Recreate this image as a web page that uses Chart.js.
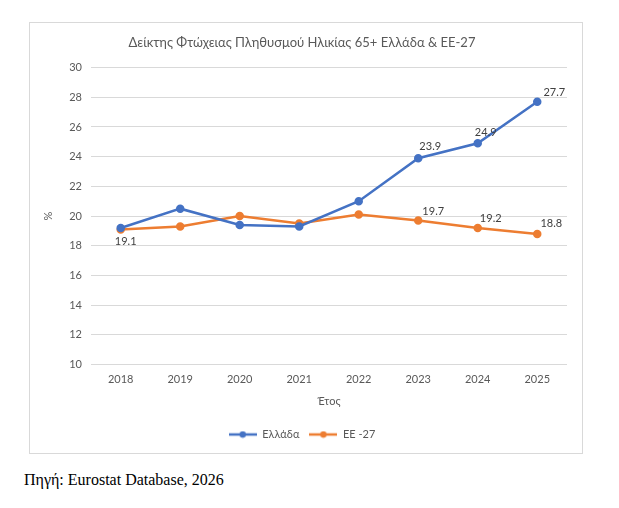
<!DOCTYPE html>
<html>
<head>
<meta charset="utf-8">
<script src="https://cdn.jsdelivr.net/npm/chart.js@4"></script>
<style>
  body { margin: 0; background: #fff; }
  #box { position: absolute; left: 29px; top: 22px; width: 554px; height: 432px; border: 1px solid #d9d9d9; box-sizing: border-box; }
  #source { position: absolute; left: 24px; top: 471px; font-family: "Liberation Serif", serif; font-size: 16px; color: #000; }
</style>
</head>
<body>
<div id="box"><canvas id="myChart"></canvas></div>
<div id="source">Πηγή: Eurostat Database, 2026</div>
<script>
const years = ["2018", "2019", "2020", "2021", "2022", "2023", "2024", "2025"];
const greece = [19.2, 20.5, 19.4, 19.3, 21.0, 23.9, 24.9, 27.7];
const eu27 = [19.1, 19.3, 20.0, 19.5, 20.1, 19.7, 19.2, 18.8];
const greeceLabelIdx = [5, 6, 7];
const euLabelIdx = [0, 5, 6, 7];

const FONT = "Lato, 'Open Sans', sans-serif";
const GREY = "#595959";

// legend marker: short line with a dot in the middle
function marker(color) {
  const c = document.createElement("canvas");
  c.width = 28; c.height = 8;
  const g = c.getContext("2d");
  g.strokeStyle = color; g.lineWidth = 2.5;
  g.beginPath(); g.moveTo(0, 4); g.lineTo(28, 4); g.stroke();
  g.fillStyle = color;
  g.beginPath(); g.arc(14, 4, 3.2, 0, Math.PI * 2); g.fill();
  return c;
}

// value labels (offsets relative to the point)
const labelPlugin = {
  id: "valueLabels",
  afterDatasetsDraw(chart) {
    const ctx = chart.ctx;
    const sets = [
      { ds: 0, idx: greeceLabelIdx, dx: [0, 0, 0, 0, 0, 12, 8, 17], dy: [0, 0, 0, 0, 0, -12, -11, -9] },
      { ds: 1, idx: euLabelIdx, dx: [5, 0, 0, 0, 0, 15, 13, 14], dy: [12, 0, 0, 0, 0, -9, -10, -10] }
    ];
    ctx.save();
    ctx.font = "11px " + FONT;
    ctx.fillStyle = "#404040";
    ctx.textAlign = "center";
    ctx.textBaseline = "middle";
    sets.forEach(s => {
      const meta = chart.getDatasetMeta(s.ds);
      s.idx.forEach(i => {
        const p = meta.data[i];
        const v = chart.data.datasets[s.ds].data[i];
        ctx.fillText(v.toFixed(1), p.x + s.dx[i], p.y + s.dy[i]);
      });
    });
    ctx.restore();
  }
};

new Chart("myChart", {
  type: "line",
  data: {
    labels: years,
    datasets: [
      {
        label: "Ελλάδα",
        data: greece,
        borderColor: "#4472C4",
        backgroundColor: "#4472C4",
        borderWidth: 2.5,
        pointRadius: 3,
        pointStyle: "circle",
        tension: 0
      },
      {
        label: "ΕΕ -27",
        data: eu27,
        borderColor: "#ED7D31",
        backgroundColor: "#ED7D31",
        borderWidth: 2.5,
        pointRadius: 3,
        pointStyle: "circle",
        tension: 0
      }
    ]
  },
  options: {
    responsive: true,
    maintainAspectRatio: false,
    animation: false,
    layout: { padding: { left: 7, right: 15, top: 0, bottom: 3 } },
    plugins: {
      title: {
        display: true,
        text: "Δείκτης Φτώχειας Πληθυσμού Ηλικίας 65+ Ελλάδα & ΕΕ-27",
        color: GREY,
        font: { family: FONT, size: 13, weight: "normal" },
        padding: { top: 12, bottom: 17 }
      },
      legend: {
        position: "bottom",
        labels: {
          color: GREY,
          font: { family: FONT, size: 11 },
          usePointStyle: true,
          pointStyleWidth: 28,
          boxWidth: 28,
          padding: 10,
          generateLabels(chart) {
            return chart.data.datasets.map((d, i) => ({
              text: d.label,
              fontColor: GREY,
              pointStyle: marker(d.borderColor),
              datasetIndex: i,
              hidden: false,
              lineWidth: 0
            }));
          }
        }
      },
      tooltip: { enabled: false }
    },
    scales: {
      x: {
        offset: true,
        grid: { display: false },
        border: { display: false },
        ticks: { color: GREY, font: { family: FONT, size: 11 }, padding: 0 },
        title: { display: true, text: "Έτος", color: GREY, font: { family: FONT, size: 11 }, padding: { top: 9, bottom: 11 } }
      },
      y: {
        min: 10,
        max: 30,
        ticks: { stepSize: 2, color: GREY, font: { family: FONT, size: 11 }, padding: 9 },
        grid: { color: "#d9d9d9", drawTicks: false },
        border: { display: false },
        title: { display: true, text: "%", color: GREY, font: { family: FONT, size: 11 }, padding: 5 }
      }
    }
  },
  plugins: [labelPlugin]
});
</script>
</body>
</html>
